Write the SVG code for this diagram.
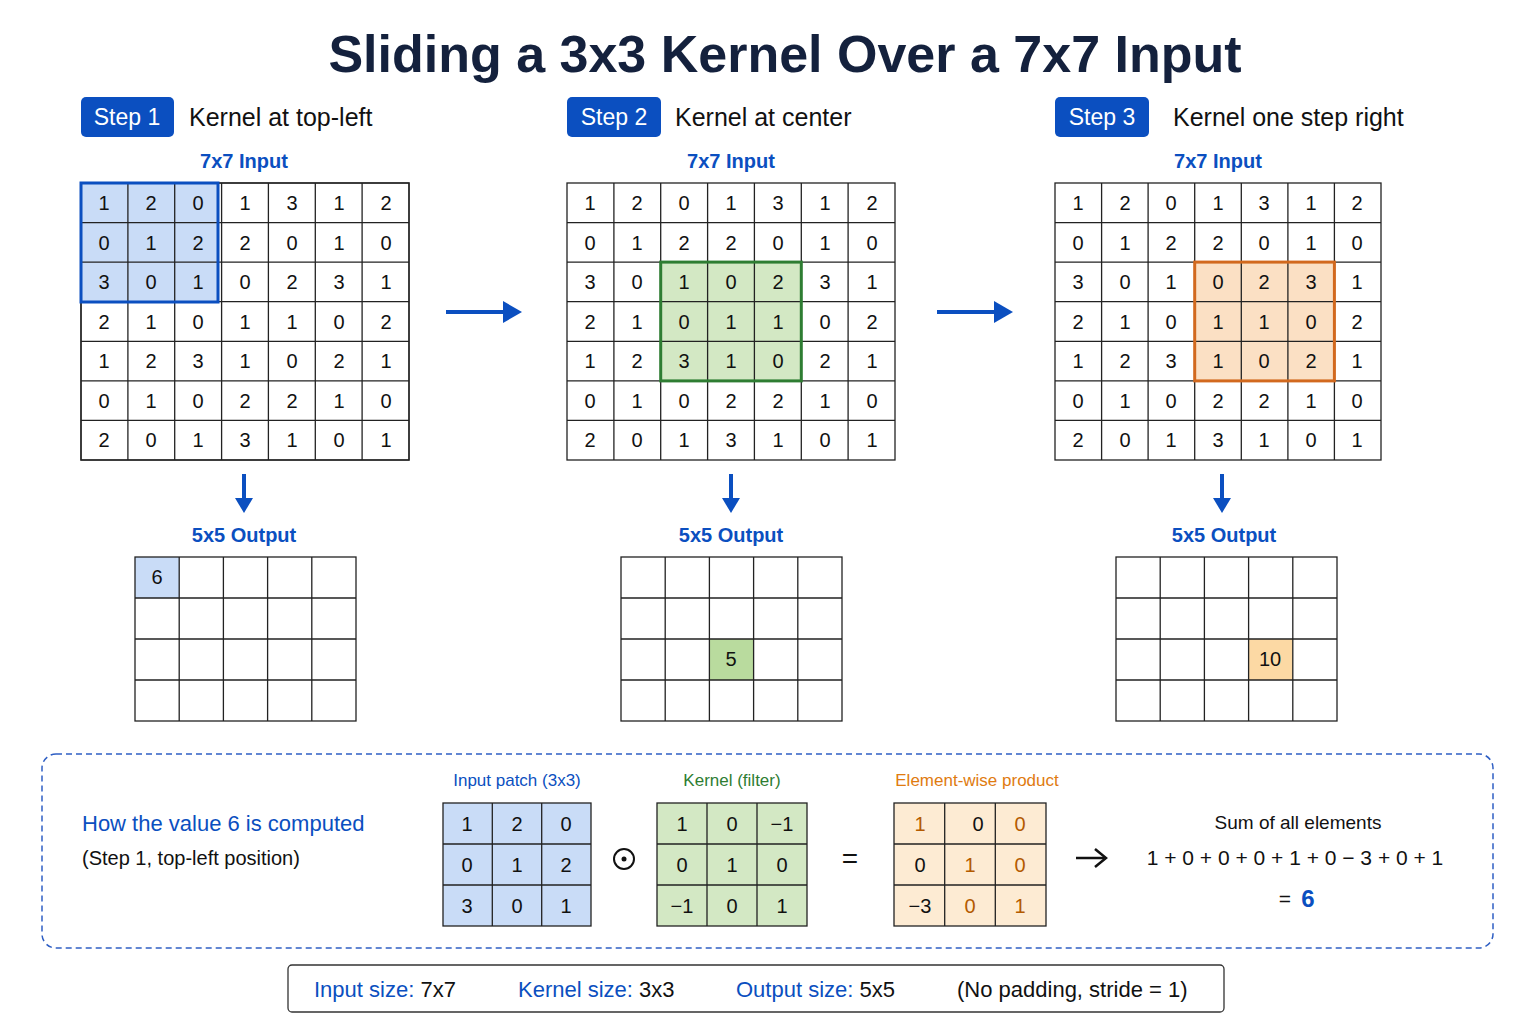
<svg xmlns="http://www.w3.org/2000/svg" width="1536" height="1024" viewBox="0 0 1536 1024">
<style>
text{font-family:"Liberation Sans",Arial,sans-serif}
.t{font-size:52px;font-weight:bold;fill:#14213d;text-anchor:middle}
.badge{fill:#0b4fc0}
.bt{font-size:23px;fill:#fff;text-anchor:middle}
.st{font-size:25px;fill:#111}
.lbl{font-size:20px;fill:#0b4fc0;text-anchor:middle;font-weight:bold}
.c{fill:#fff;stroke:#222;stroke-width:1.3}
.n{font-size:20px;fill:#111;text-anchor:middle}
.arr{stroke:#0b4fc0;stroke-width:4;fill:none}
.ah{fill:#0b4fc0}
</style>
<rect width="1536" height="1024" fill="#fff"/>
<text class="t" x="785" y="72">Sliding a 3x3 Kernel Over a 7x7 Input</text>

<g id="step1">
<rect class="badge" x="81" y="97" width="93" height="40" rx="5"/><text class="bt" x="127" y="125">Step 1</text>
<text class="st" x="189" y="126">Kernel at top-left</text>
<text class="lbl" x="244" y="168">7x7 Input</text>
<g id="grid1"></g>
</g>
<g id="step2">
<rect class="badge" x="567" y="97" width="94" height="40" rx="5"/><text class="bt" x="614" y="125">Step 2</text>
<text class="st" x="675" y="126">Kernel at center</text>
<text class="lbl" x="731" y="168">7x7 Input</text>
</g>
<g id="step3">
<rect class="badge" x="1055" y="97" width="94" height="40" rx="5"/><text class="bt" x="1102" y="125">Step 3</text>
<text class="st" x="1173" y="126">Kernel one step right</text>
<text class="lbl" x="1218" y="168">7x7 Input</text>
</g>

<!-- Grid 1 -->
<g id="input1">
<g fill="#fff" stroke="#222" stroke-width="1.3">
<rect x="81" y="183" width="328" height="277"/>
</g>
<rect x="81" y="183" width="137" height="119" fill="#c9dcf7"/>
<g stroke="#222" stroke-width="1.3">
<line x1="127.9" y1="183" x2="127.9" y2="460"/><line x1="174.7" y1="183" x2="174.7" y2="460"/><line x1="221.6" y1="183" x2="221.6" y2="460"/><line x1="268.4" y1="183" x2="268.4" y2="460"/><line x1="315.3" y1="183" x2="315.3" y2="460"/><line x1="362.1" y1="183" x2="362.1" y2="460"/>
<line x1="81" y1="222.6" x2="409" y2="222.6"/><line x1="81" y1="262.1" x2="409" y2="262.1"/><line x1="81" y1="301.7" x2="409" y2="301.7"/><line x1="81" y1="341.3" x2="409" y2="341.3"/><line x1="81" y1="380.9" x2="409" y2="380.9"/><line x1="81" y1="420.4" x2="409" y2="420.4"/>
<rect x="81" y="183" width="328" height="277" fill="none"/>
</g>
<rect x="81" y="183" width="137" height="119" fill="none" stroke="#0b4fc0" stroke-width="3"/>
</g>

<!-- Grid 2 -->
<g id="input2">
<rect x="567" y="183" width="328" height="277" fill="#fff"/>
<rect x="660.7" y="262.1" width="140.6" height="118.8" fill="#d3e8c4"/>
<g stroke="#222" stroke-width="1.3">
<line x1="613.9" y1="183" x2="613.9" y2="460"/><line x1="660.7" y1="183" x2="660.7" y2="460"/><line x1="707.6" y1="183" x2="707.6" y2="460"/><line x1="754.4" y1="183" x2="754.4" y2="460"/><line x1="801.3" y1="183" x2="801.3" y2="460"/><line x1="848.1" y1="183" x2="848.1" y2="460"/>
<line x1="567" y1="222.6" x2="895" y2="222.6"/><line x1="567" y1="262.1" x2="895" y2="262.1"/><line x1="567" y1="301.7" x2="895" y2="301.7"/><line x1="567" y1="341.3" x2="895" y2="341.3"/><line x1="567" y1="380.9" x2="895" y2="380.9"/><line x1="567" y1="420.4" x2="895" y2="420.4"/>
<rect x="567" y="183" width="328" height="277" fill="none"/>
</g>
<rect x="660.7" y="262.1" width="140.6" height="118.8" fill="none" stroke="#2e7d32" stroke-width="3"/>
</g>

<!-- Grid 3 -->
<g id="input3">
<rect x="1055" y="183" width="326" height="277" fill="#fff"/>
<rect x="1194.7" y="262.1" width="139.7" height="118.8" fill="#fbe0c4"/>
<g stroke="#222" stroke-width="1.3">
<line x1="1101.6" y1="183" x2="1101.6" y2="460"/><line x1="1148.1" y1="183" x2="1148.1" y2="460"/><line x1="1194.7" y1="183" x2="1194.7" y2="460"/><line x1="1241.3" y1="183" x2="1241.3" y2="460"/><line x1="1287.9" y1="183" x2="1287.9" y2="460"/><line x1="1334.4" y1="183" x2="1334.4" y2="460"/>
<line x1="1055" y1="222.6" x2="1381" y2="222.6"/><line x1="1055" y1="262.1" x2="1381" y2="262.1"/><line x1="1055" y1="301.7" x2="1381" y2="301.7"/><line x1="1055" y1="341.3" x2="1381" y2="341.3"/><line x1="1055" y1="380.9" x2="1381" y2="380.9"/><line x1="1055" y1="420.4" x2="1381" y2="420.4"/>
<rect x="1055" y="183" width="326" height="277" fill="none"/>
</g>
<rect x="1194.7" y="262.1" width="139.7" height="118.8" fill="none" stroke="#d2691e" stroke-width="3"/>
</g>

<!-- numbers: rows -->
<g class="nums">
<text class="n" y="210"><tspan x="104">1</tspan><tspan x="151">2</tspan><tspan x="198">0</tspan><tspan x="245">1</tspan><tspan x="292">3</tspan><tspan x="339">1</tspan><tspan x="386">2</tspan></text>
<text class="n" y="250"><tspan x="104">0</tspan><tspan x="151">1</tspan><tspan x="198">2</tspan><tspan x="245">2</tspan><tspan x="292">0</tspan><tspan x="339">1</tspan><tspan x="386">0</tspan></text>
<text class="n" y="289"><tspan x="104">3</tspan><tspan x="151">0</tspan><tspan x="198">1</tspan><tspan x="245">0</tspan><tspan x="292">2</tspan><tspan x="339">3</tspan><tspan x="386">1</tspan></text>
<text class="n" y="329"><tspan x="104">2</tspan><tspan x="151">1</tspan><tspan x="198">0</tspan><tspan x="245">1</tspan><tspan x="292">1</tspan><tspan x="339">0</tspan><tspan x="386">2</tspan></text>
<text class="n" y="368"><tspan x="104">1</tspan><tspan x="151">2</tspan><tspan x="198">3</tspan><tspan x="245">1</tspan><tspan x="292">0</tspan><tspan x="339">2</tspan><tspan x="386">1</tspan></text>
<text class="n" y="408"><tspan x="104">0</tspan><tspan x="151">1</tspan><tspan x="198">0</tspan><tspan x="245">2</tspan><tspan x="292">2</tspan><tspan x="339">1</tspan><tspan x="386">0</tspan></text>
<text class="n" y="447"><tspan x="104">2</tspan><tspan x="151">0</tspan><tspan x="198">1</tspan><tspan x="245">3</tspan><tspan x="292">1</tspan><tspan x="339">0</tspan><tspan x="386">1</tspan></text>

<text class="n" y="210"><tspan x="590">1</tspan><tspan x="637">2</tspan><tspan x="684">0</tspan><tspan x="731">1</tspan><tspan x="778">3</tspan><tspan x="825">1</tspan><tspan x="872">2</tspan></text>
<text class="n" y="250"><tspan x="590">0</tspan><tspan x="637">1</tspan><tspan x="684">2</tspan><tspan x="731">2</tspan><tspan x="778">0</tspan><tspan x="825">1</tspan><tspan x="872">0</tspan></text>
<text class="n" y="289"><tspan x="590">3</tspan><tspan x="637">0</tspan><tspan x="684">1</tspan><tspan x="731">0</tspan><tspan x="778">2</tspan><tspan x="825">3</tspan><tspan x="872">1</tspan></text>
<text class="n" y="329"><tspan x="590">2</tspan><tspan x="637">1</tspan><tspan x="684">0</tspan><tspan x="731">1</tspan><tspan x="778">1</tspan><tspan x="825">0</tspan><tspan x="872">2</tspan></text>
<text class="n" y="368"><tspan x="590">1</tspan><tspan x="637">2</tspan><tspan x="684">3</tspan><tspan x="731">1</tspan><tspan x="778">0</tspan><tspan x="825">2</tspan><tspan x="872">1</tspan></text>
<text class="n" y="408"><tspan x="590">0</tspan><tspan x="637">1</tspan><tspan x="684">0</tspan><tspan x="731">2</tspan><tspan x="778">2</tspan><tspan x="825">1</tspan><tspan x="872">0</tspan></text>
<text class="n" y="447"><tspan x="590">2</tspan><tspan x="637">0</tspan><tspan x="684">1</tspan><tspan x="731">3</tspan><tspan x="778">1</tspan><tspan x="825">0</tspan><tspan x="872">1</tspan></text>

<text class="n" y="210"><tspan x="1078">1</tspan><tspan x="1125">2</tspan><tspan x="1171">0</tspan><tspan x="1218">1</tspan><tspan x="1264">3</tspan><tspan x="1311">1</tspan><tspan x="1357">2</tspan></text>
<text class="n" y="250"><tspan x="1078">0</tspan><tspan x="1125">1</tspan><tspan x="1171">2</tspan><tspan x="1218">2</tspan><tspan x="1264">0</tspan><tspan x="1311">1</tspan><tspan x="1357">0</tspan></text>
<text class="n" y="289"><tspan x="1078">3</tspan><tspan x="1125">0</tspan><tspan x="1171">1</tspan><tspan x="1218">0</tspan><tspan x="1264">2</tspan><tspan x="1311">3</tspan><tspan x="1357">1</tspan></text>
<text class="n" y="329"><tspan x="1078">2</tspan><tspan x="1125">1</tspan><tspan x="1171">0</tspan><tspan x="1218">1</tspan><tspan x="1264">1</tspan><tspan x="1311">0</tspan><tspan x="1357">2</tspan></text>
<text class="n" y="368"><tspan x="1078">1</tspan><tspan x="1125">2</tspan><tspan x="1171">3</tspan><tspan x="1218">1</tspan><tspan x="1264">0</tspan><tspan x="1311">2</tspan><tspan x="1357">1</tspan></text>
<text class="n" y="408"><tspan x="1078">0</tspan><tspan x="1125">1</tspan><tspan x="1171">0</tspan><tspan x="1218">2</tspan><tspan x="1264">2</tspan><tspan x="1311">1</tspan><tspan x="1357">0</tspan></text>
<text class="n" y="447"><tspan x="1078">2</tspan><tspan x="1125">0</tspan><tspan x="1171">1</tspan><tspan x="1218">3</tspan><tspan x="1264">1</tspan><tspan x="1311">0</tspan><tspan x="1357">1</tspan></text>
</g>

<g id="connectors">
<line class="arr" x1="446" y1="312" x2="508" y2="312"/><polygon class="ah" points="522,312 503,301 503,323"/>
<line class="arr" x1="937" y1="312" x2="999" y2="312"/><polygon class="ah" points="1013,312 994,301 994,323"/>
<line class="arr" x1="244" y1="474" x2="244" y2="500"/><polygon class="ah" points="244,513 235,498 253,498"/>
<line class="arr" x1="731" y1="474" x2="731" y2="500"/><polygon class="ah" points="731,513 722,498 740,498"/>
<line class="arr" x1="1222" y1="474" x2="1222" y2="500"/><polygon class="ah" points="1222,513 1213,498 1231,498"/>
<line x1="1076" y1="858" x2="1104" y2="858" stroke="#111" stroke-width="2.5"/><polyline points="1095,849 1106,858 1095,867" fill="none" stroke="#111" stroke-width="2.5"/>
</g>

<!-- Outputs -->
<g id="output1">
<text class="lbl" x="244" y="542">5x5 Output</text>
<rect x="135" y="557" width="44.2" height="41" fill="#c9dcf7"/>
<g stroke="#222" stroke-width="1.3" fill="none">
<rect x="135" y="557" width="221" height="164"/>
<path d="M179.2 557V721M223.4 557V721M267.6 557V721M311.8 557V721M135 598H356M135 639H356M135 680H356"/>
</g>
<text class="n" x="157" y="584">6</text>
</g>
<g id="output2">
<text class="lbl" x="731" y="542">5x5 Output</text>
<rect x="709.4" y="639" width="44.2" height="41" fill="#b9db9e"/>
<g stroke="#222" stroke-width="1.3" fill="none">
<rect x="621" y="557" width="221" height="164"/>
<path d="M665.2 557V721M709.4 557V721M753.6 557V721M797.8 557V721M621 598H842M621 639H842M621 680H842"/>
</g>
<text class="n" x="731" y="666">5</text>
</g>
<g id="output3">
<text class="lbl" x="1224" y="542">5x5 Output</text>
<rect x="1248.6" y="639" width="44.2" height="41" fill="#fcd9a4"/>
<g stroke="#222" stroke-width="1.3" fill="none">
<rect x="1116" y="557" width="221" height="164"/>
<path d="M1160.2 557V721M1204.4 557V721M1248.6 557V721M1292.8 557V721M1116 598H1337M1116 639H1337M1116 680H1337"/>
</g>
<text class="n" x="1270" y="666">10</text>
</g>

<!-- Computation panel -->
<g id="computation">
<rect x="42" y="754" width="1451" height="194" rx="14" fill="none" stroke="#2f5fc4" stroke-width="1.5" stroke-dasharray="6,4"/>
<text x="82" y="831" font-size="22" fill="#0b4fc0">How the value 6 is computed</text>
<text x="82" y="865" font-size="20" fill="#111">(Step 1, top-left position)</text>

<text x="517" y="786" font-size="17" fill="#0b4fc0" text-anchor="middle">Input patch (3x3)</text>
<rect x="443" y="803" width="148" height="123" fill="#c9dcf7" stroke="#222" stroke-width="1.3"/>
<path d="M492.3 803V926M541.7 803V926M443 844H591M443 885H591" stroke="#222" stroke-width="1.3"/>
<text class="n" y="831"><tspan x="467">1</tspan><tspan x="517">2</tspan><tspan x="566">0</tspan></text>
<text class="n" y="872"><tspan x="467">0</tspan><tspan x="517">1</tspan><tspan x="566">2</tspan></text>
<text class="n" y="913"><tspan x="467">3</tspan><tspan x="517">0</tspan><tspan x="566">1</tspan></text>

<circle cx="624" cy="859" r="10" fill="none" stroke="#111" stroke-width="2"/><circle cx="624" cy="859" r="2.5" fill="#111"/>

<text x="732" y="786" font-size="17" fill="#2e7d32" text-anchor="middle">Kernel (filter)</text>
<rect x="657" y="803" width="150" height="123" fill="#d3e8c4" stroke="#222" stroke-width="1.3"/>
<path d="M707 803V926M757 803V926M657 844H807M657 885H807" stroke="#222" stroke-width="1.3"/>
<text class="n" y="831"><tspan x="682">1</tspan><tspan x="732">0</tspan><tspan x="782">−1</tspan></text>
<text class="n" y="872"><tspan x="682">0</tspan><tspan x="732">1</tspan><tspan x="782">0</tspan></text>
<text class="n" y="913"><tspan x="682">−1</tspan><tspan x="732">0</tspan><tspan x="782">1</tspan></text>

<text x="850" y="868" font-size="28" fill="#111" text-anchor="middle">=</text>

<text x="977" y="786" font-size="17" fill="#e07b10" text-anchor="middle">Element-wise product</text>
<rect x="894" y="803" width="152" height="123" fill="#fdebd3" stroke="#222" stroke-width="1.3"/>
<path d="M944.7 803V926M995.3 803V926M894 844H1046M894 885H1046" stroke="#222" stroke-width="1.3"/>
<text class="n" y="831"><tspan x="920" fill="#b35a00">1</tspan><tspan x="978">0</tspan><tspan x="1020" fill="#b35a00">0</tspan></text>
<text class="n" y="872"><tspan x="920">0</tspan><tspan x="970" fill="#b35a00">1</tspan><tspan x="1020" fill="#b35a00">0</tspan></text>
<text class="n" y="913"><tspan x="920">−3</tspan><tspan x="970" fill="#b35a00">0</tspan><tspan x="1020" fill="#b35a00">1</tspan></text>

<text x="1298" y="829" font-size="19" fill="#111" text-anchor="middle">Sum of all elements</text>
<text x="1295" y="865" font-size="21" fill="#111" text-anchor="middle">1 + 0 + 0 + 0 + 1 + 0 − 3 + 0 + 1</text>
<text x="1285" y="906" font-size="21" fill="#111" text-anchor="middle">= </text>
<text x="1308" y="907" font-size="24" fill="#0b4fc0" font-weight="bold" text-anchor="middle">6</text>
</g>

<g id="footer">
<rect x="288" y="965" width="936" height="47" rx="4" fill="#fff" stroke="#333" stroke-width="1.3"/>
<text y="997" font-size="22"><tspan x="314" fill="#0b4fc0">Input size:</tspan><tspan fill="#111"> 7x7</tspan></text>
<text y="997" font-size="22"><tspan x="518" fill="#0b4fc0">Kernel size:</tspan><tspan fill="#111"> 3x3</tspan></text>
<text y="997" font-size="22"><tspan x="736" fill="#0b4fc0">Output size:</tspan><tspan fill="#111"> 5x5</tspan></text>
<text x="957" y="997" font-size="22" fill="#111">(No padding, stride = 1)</text>
</g>
</svg>
